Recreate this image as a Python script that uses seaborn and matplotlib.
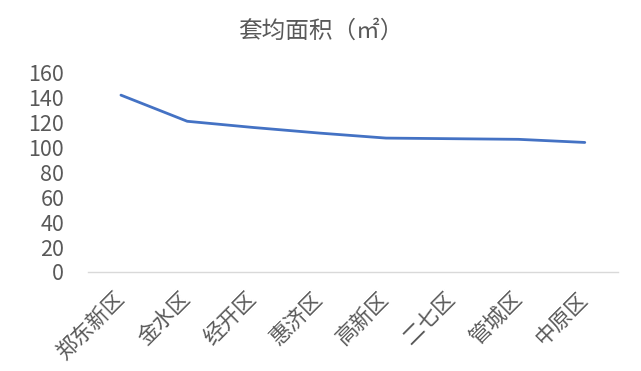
import matplotlib
matplotlib.use("Agg")
import matplotlib.pyplot as plt
import seaborn as sns
import pandas as pd

districts = ["郑东新区", "金水区", "经开区", "惠济区", "高新区", "二七区", "管城区", "中原区"]
avg_area = [142, 121, 116, 111.5, 107.5, 107, 106.5, 104]
y_ticks = [0, 20, 40, 60, 80, 100, 120, 140, 160]
title = "套均面积（㎡）"

sns.set_theme(style="white")
plt.rcParams['font.family'] = ['Noto Sans CJK SC', 'DejaVu Sans']

df = pd.DataFrame({"district": districts, "area": avg_area})

fig = plt.figure(figsize=(6.41, 3.71), dpi=100)
ax = fig.add_axes([0.137, 0.267, 0.827, 0.537])

sns.lineplot(data=df, x="district", y="area", sort=False, ax=ax,
             color="#4472C4", linewidth=2.0)

ax.set_xlim(-0.5, len(districts) - 0.5)
ax.set_ylim(0, 160)
ax.set_yticks(y_ticks)
ax.set_yticklabels([str(v) for v in y_ticks])
ax.set_xlabel("")
ax.set_ylabel("")

for s in ["top", "right", "left"]:
    ax.spines[s].set_visible(False)
ax.spines["bottom"].set_color("#D9D9D9")
ax.spines["bottom"].set_linewidth(1.0)

ax.tick_params(axis="y", length=0, pad=17, labelsize=15.5, labelcolor="#595959")
ax.tick_params(axis="x", length=0, pad=17, labelsize=15.5, labelcolor="#595959")
for lbl in ax.get_xticklabels():
    lbl.set_rotation(45)
    lbl.set_ha("right")
    lbl.set_va("center")
    lbl.set_rotation_mode("anchor")

fig.text(0.5, 0.915, title, ha="center", va="center", fontsize=17, color="#595959")

fig.savefig("out.png", dpi=100, facecolor="white")
